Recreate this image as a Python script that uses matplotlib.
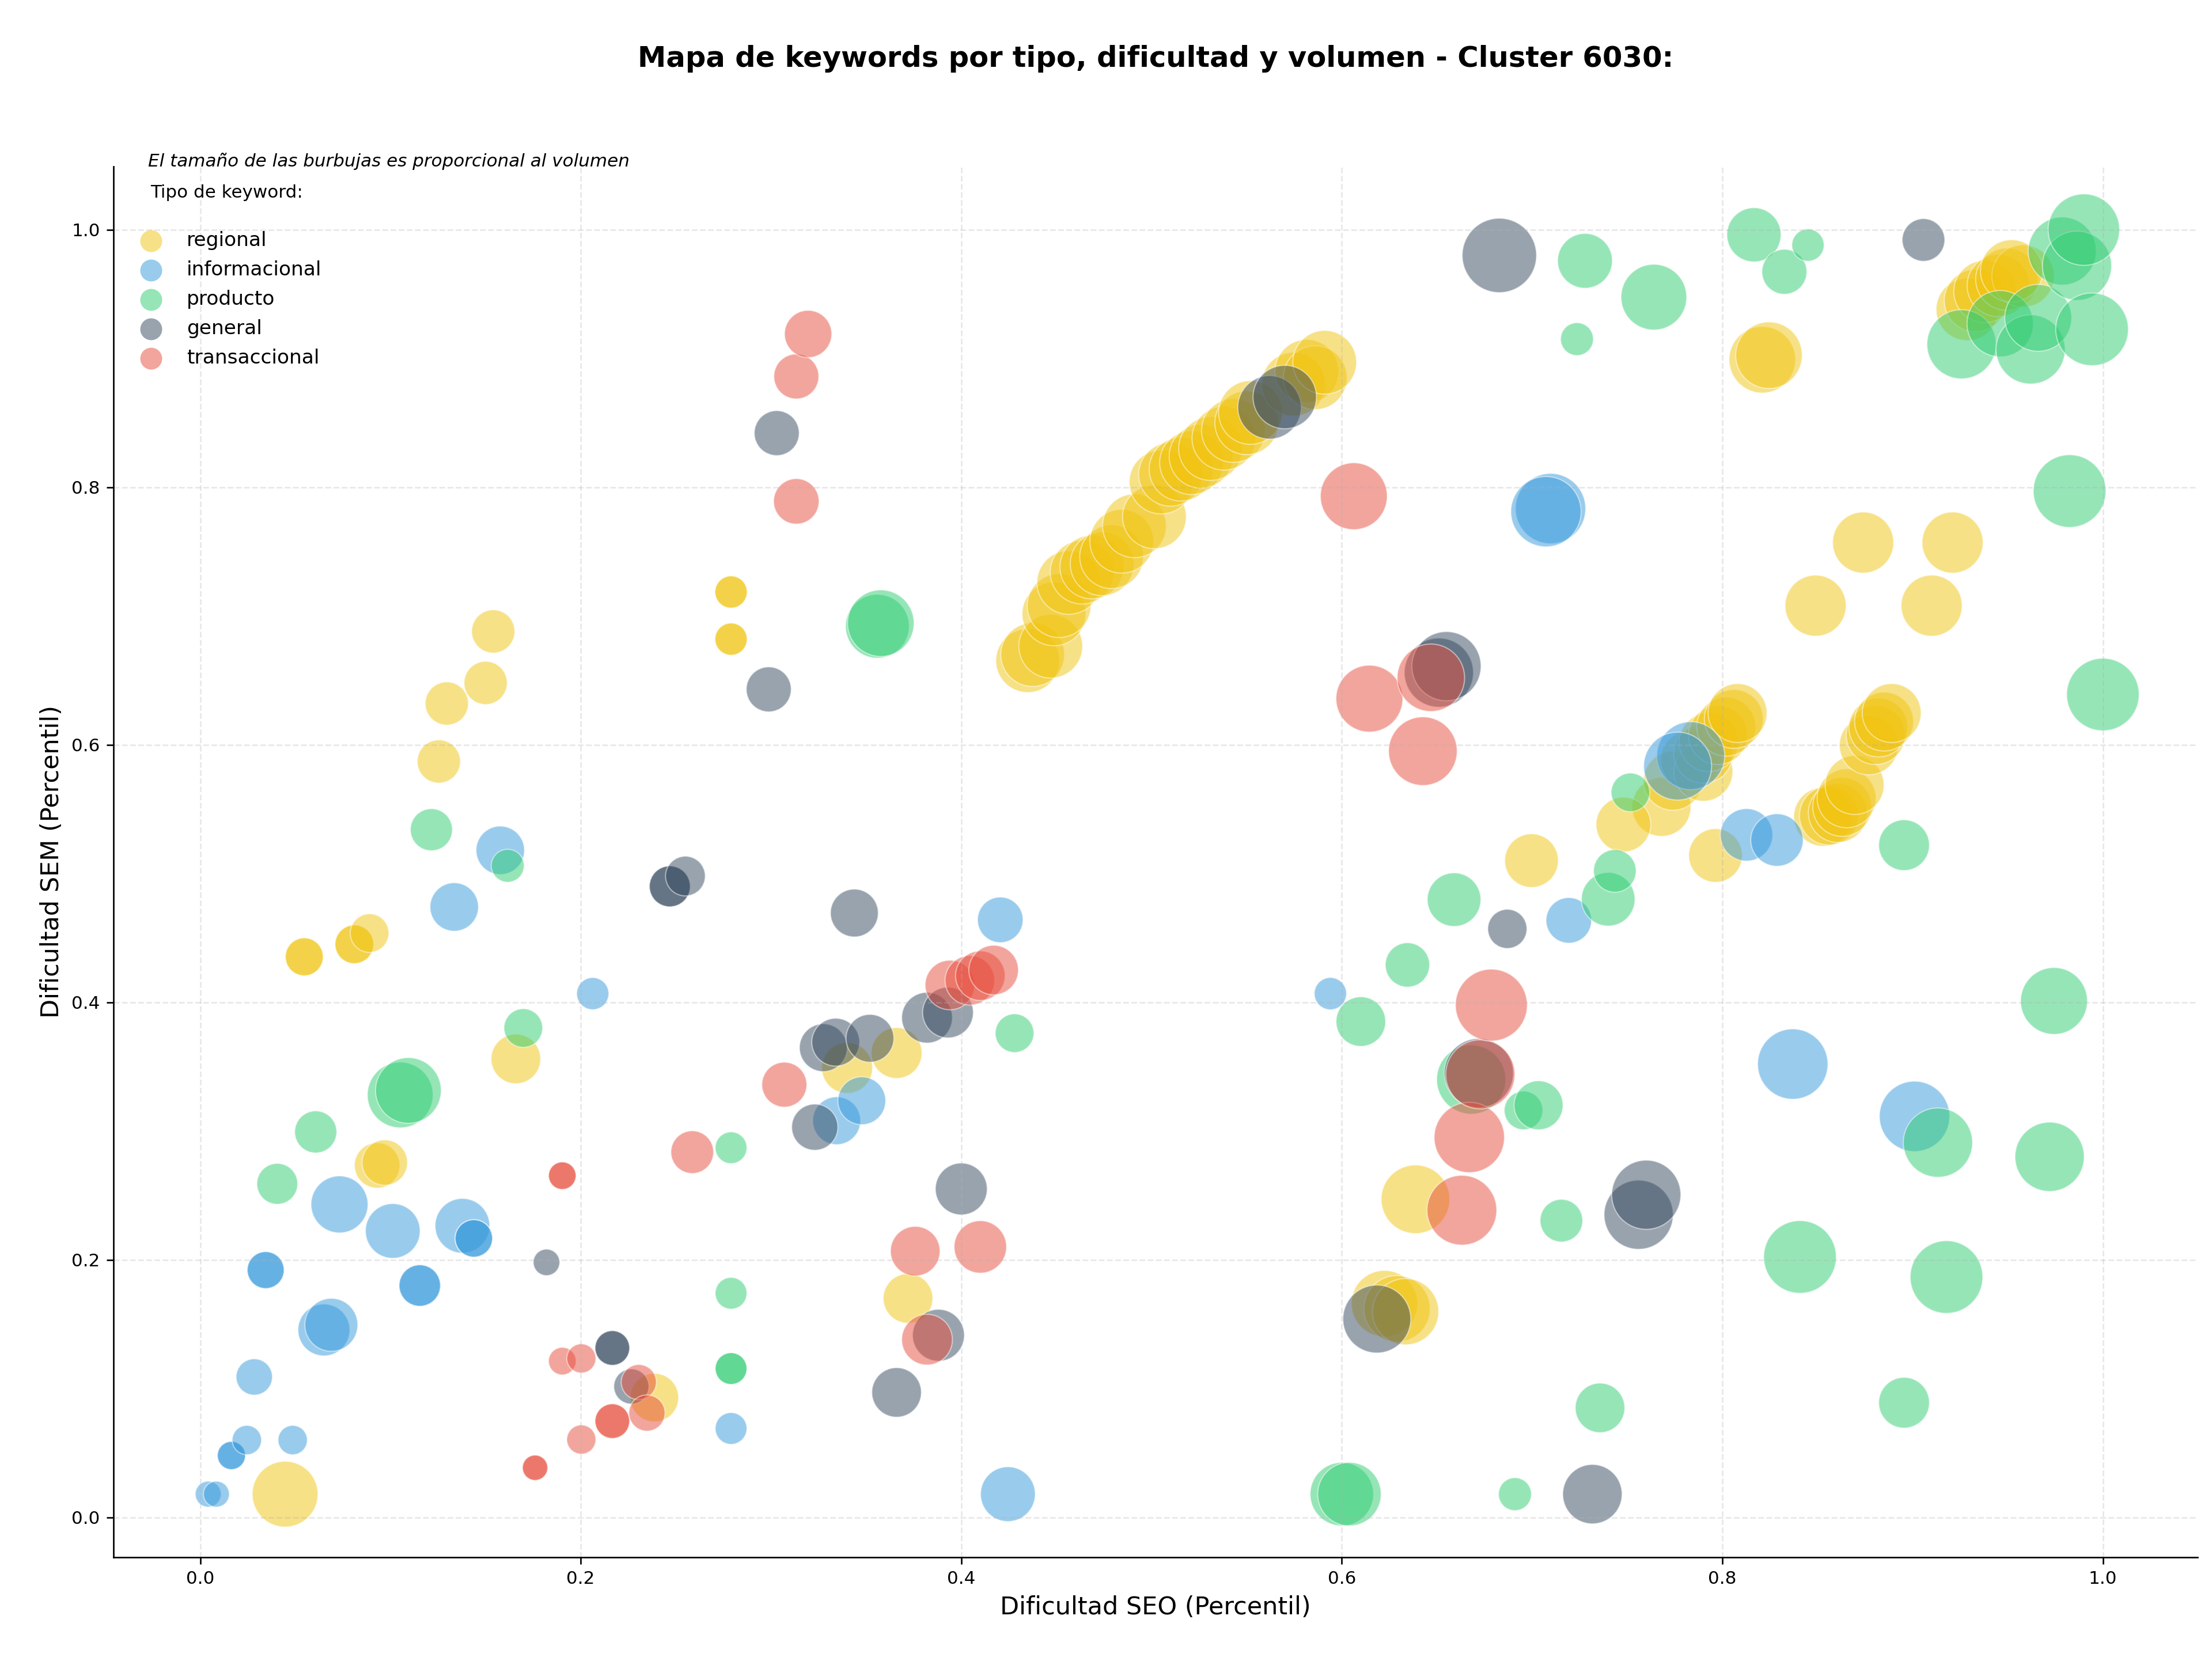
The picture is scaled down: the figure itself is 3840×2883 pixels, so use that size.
import numpy as np
import matplotlib
matplotlib.use('Agg')
import matplotlib.pyplot as plt

# keywords por tipo: dificultad SEO (x), dificultad SEM (y), volumen (tamaño burbuja)
tipos = ['regional', 'informacional', 'producto', 'general', 'transaccional']
colores = {'regional': '#F1C40F', 'informacional': '#3498DB', 'producto': '#2ECC71',
           'general': '#34495E', 'transaccional': '#E74C3C'}

regional_seo = [0.0446, 0.0547, 0.0547, 0.081, 0.081, 0.089, 0.093, 0.097, 0.1254, 0.1296,
                0.150, 0.154, 0.1659, 0.279, 0.279, 0.279, 0.279, 0.2387, 0.340, 0.366, 0.372,
                0.4349, 0.4375, 0.447, 0.4487, 0.4514, 0.4565, 0.4635, 0.4686, 0.474, 0.479,
                0.4843, 0.491, 0.5015, 0.505, 0.510, 0.5155, 0.521, 0.526, 0.531, 0.538,
                0.543, 0.550, 0.552, 0.5746, 0.5816, 0.586, 0.591,
                0.821, 0.8245, 0.9287, 0.933, 0.938, 0.945, 0.9495, 0.958, 0.952,
                0.874, 0.921, 0.849, 0.910,
                0.768, 0.774, 0.783, 0.790, 0.790, 0.7928, 0.7977, 0.802, 0.806, 0.808,
                0.748, 0.6997, 0.7964,
                0.853, 0.856, 0.8607, 0.863, 0.8653, 0.8695, 0.877, 0.8806, 0.882, 0.885, 0.889,
                0.6387, 0.6224, 0.629, 0.6335]
regional_sem = [0.018, 0.4353, 0.4353, 0.445, 0.445, 0.4537, 0.2733, 0.2755, 0.587, 0.632,
                0.648, 0.688, 0.356, 0.7186, 0.7186, 0.682, 0.682, 0.093, 0.349, 0.3606, 0.170,
                0.6653, 0.670, 0.6765, 0.7016, 0.708, 0.726, 0.734, 0.738, 0.7405, 0.746,
                0.758, 0.770, 0.777, 0.804, 0.810, 0.814, 0.819, 0.824, 0.830, 0.838,
                0.844, 0.850, 0.858, 0.880, 0.890, 0.885, 0.897,
                0.899, 0.9025, 0.938, 0.945, 0.952, 0.9566, 0.9615, 0.964, 0.968,
                0.757, 0.757, 0.708, 0.708,
                0.5517, 0.572, 0.588, 0.579, 0.593, 0.602, 0.6075, 0.614, 0.620, 0.6246,
                0.538, 0.510, 0.514,
                0.544, 0.545, 0.547, 0.5517, 0.5584, 0.5687, 0.5995, 0.6075, 0.6134, 0.618, 0.6246,
                0.247, 0.166, 0.162, 0.1597]
regional_vol = [1170, 390, 390, 405, 405, 405, 560, 560, 506, 506,
                506, 506, 665, 282, 282, 282, 282, 635, 700, 700, 666,
                1100, 1100, 1100, 1100, 1100, 1100, 1100, 1100, 1100, 1100,
                1100, 1100, 1100, 1100, 1100, 1100, 1100, 1100, 1100, 1100,
                1100, 1100, 1100, 1100, 1100, 1100, 1100,
                1200, 1200, 1050, 1050, 1050, 1050, 1050, 1050, 1050,
                1010, 1010, 1010, 1010,
                940, 940, 940, 940, 940, 940, 940, 940, 940, 940,
                812, 778, 778,
                940, 940, 940, 940, 940, 940, 940, 940, 940, 940, 940,
                1275, 1190, 1190, 1190]

informacional_seo = [0.0042, 0.0085, 0.0164, 0.0164, 0.0245, 0.0486, 0.0284, 0.065, 0.0689,
                     0.0344, 0.0344, 0.1154, 0.1154, 0.0732, 0.1012, 0.1378, 0.1438, 0.1438,
                     0.1335, 0.1577, 0.2063, 0.279, 0.3345, 0.3477, 0.4205, 0.4245, 0.594,
                     0.7097, 0.7073, 0.7193, 0.7834, 0.7765, 0.8127, 0.8287, 0.837, 0.901]
informacional_sem = [0.018, 0.018, 0.048, 0.048, 0.060, 0.060, 0.109, 0.1455, 0.1495,
                     0.192, 0.192, 0.180, 0.180, 0.243, 0.2224, 0.2264, 0.2166, 0.2166,
                     0.474, 0.518, 0.4067, 0.069, 0.308, 0.3235, 0.464, 0.018, 0.4067,
                     0.7834, 0.781, 0.4636, 0.5915, 0.5834, 0.530, 0.526, 0.352, 0.3114]
informacional_vol = [182, 182, 215, 215, 233, 233, 357, 729, 760,
                     370, 370, 466, 466, 880, 810, 810, 380, 380,
                     635, 635, 280, 273, 620, 620, 562, 812, 282,
                     1340, 1340, 562, 1250, 1250, 745, 745, 1340, 1340]

producto_seo = [0.0405, 0.0607, 0.1051, 0.1094, 0.1215, 0.1616, 0.1698, 0.279, 0.279, 0.279,
                0.279, 0.3559, 0.3577, 0.428, 0.600, 0.604, 0.610, 0.6345, 0.659, 0.668,
                0.691, 0.6955, 0.7034, 0.7154, 0.7236, 0.7278, 0.7357, 0.740, 0.7435, 0.7517,
                0.764, 0.8166, 0.8326, 0.845, 0.8408, 0.8955, 0.8955, 0.9133, 0.9178, 0.9257,
                0.946, 0.962, 0.966, 0.972, 0.9743, 0.9786, 0.9864, 0.990, 0.9943, 0.9825, 1.0]
producto_sem = [0.259, 0.2993, 0.328, 0.3315, 0.534, 0.506, 0.380, 0.287, 0.174, 0.1155,
                0.1155, 0.692, 0.6944, 0.376, 0.018, 0.018, 0.385, 0.429, 0.4797, 0.340,
                0.018, 0.316, 0.320, 0.2304, 0.915, 0.9758, 0.085, 0.480, 0.502, 0.563,
                0.9476, 0.996, 0.9673, 0.988, 0.2022, 0.522, 0.089, 0.291, 0.1866, 0.911,
                0.927, 0.907, 0.9315, 0.280, 0.401, 0.9834, 0.972, 1.0, 0.9226, 0.797, 0.639]
producto_vol = [453, 480, 1170, 1170, 480, 294, 405, 273, 273, 273,
                273, 1100, 1200, 405, 1090, 1090, 666, 533, 778, 1296,
                294, 404, 650, 493, 292, 812, 665, 778, 493, 405,
                1170, 795, 548, 282, 1430, 697, 697, 1300, 1430, 1296,
                1190, 1296, 1211, 1300, 1211, 1253, 1296, 1384, 1430, 1430, 1425]

general_seo = [0.182, 0.2166, 0.2166, 0.2266, 0.2468, 0.2468, 0.255, 0.2988, 0.303, 0.323,
               0.3275, 0.334, 0.3438, 0.352, 0.366, 0.382, 0.393, 0.388, 0.400, 0.562,
               0.570, 0.6184, 0.651, 0.655, 0.672, 0.6828, 0.687, 0.7317, 0.756, 0.760, 0.9057]
general_sem = [0.198, 0.1315, 0.1315, 0.1016, 0.490, 0.490, 0.498, 0.643, 0.842, 0.303,
               0.3647, 0.369, 0.4693, 0.372, 0.097, 0.388, 0.392, 0.1414, 0.255, 0.862,
               0.870, 0.154, 0.656, 0.661, 0.345, 0.980, 0.457, 0.018, 0.235, 0.2505, 0.992]
general_vol = [190, 326, 326, 335, 455, 455, 428, 548, 548, 578,
               620, 620, 620, 620, 665, 697, 697, 729, 729, 1090,
               1090, 1250, 1296, 1296, 1296, 1498, 416, 955, 1296, 1296, 493]

transaccional_seo = [0.176, 0.176, 0.1903, 0.1903, 0.1903, 0.2003, 0.2003, 0.2166, 0.2166,
                     0.2305, 0.2348, 0.2586, 0.307, 0.3133, 0.3133, 0.3195, 0.3758, 0.382,
                     0.394, 0.4045, 0.410, 0.417, 0.410, 0.6063, 0.6145, 0.6468, 0.6426,
                     0.6631, 0.667, 0.6728, 0.6786]
transaccional_sem = [0.0385, 0.0385, 0.2653, 0.2653, 0.1213, 0.1234, 0.0604, 0.0747, 0.0747,
                     0.105, 0.081, 0.2836, 0.336, 0.886, 0.789, 0.919, 0.2067, 0.138,
                     0.4134, 0.417, 0.4206, 0.425, 0.210, 0.793, 0.6358, 0.652, 0.595,
                     0.2385, 0.295, 0.344, 0.3978]
transaccional_vol = [174, 174, 206, 206, 206, 230, 230, 326, 326,
                     335, 355, 495, 548, 548, 560, 605, 666, 697,
                     665, 665, 665, 665, 745, 1211, 1211, 1232, 1275,
                     1318, 1340, 1296, 1400]

datos = {
    'regional': (regional_seo, regional_sem, regional_vol),
    'informacional': (informacional_seo, informacional_sem, informacional_vol),
    'producto': (producto_seo, producto_sem, producto_vol),
    'general': (general_seo, general_sem, general_vol),
    'transaccional': (transaccional_seo, transaccional_sem, transaccional_vol),
}

fig, ax = plt.subplots(figsize=(16, 12.0125), dpi=240)
plt.subplots_adjust(left=0.0513, right=0.9935, bottom=0.0624, top=0.8998)

for tipo in tipos:
    seo, sem, vol = datos[tipo]
    ax.scatter(seo, sem, s=np.array(vol), color=colores[tipo], alpha=0.5,
               edgecolors='white', linewidths=0.6)

# handles de la leyenda con tamaño fijo
handles = [ax.scatter([], [], s=130, color=colores[t], alpha=0.5, linewidths=0, label=t)
           for t in tipos]
ax.legend(handles=handles, title='Tipo de keyword:\n', loc='upper left', frameon=False,
          fontsize=10.3, title_fontsize=9.3, scatterpoints=1, labelspacing=0.53)

ax.text(0.0166, 1.0, 'El tamaño de las burbujas es proporcional al volumen',
        transform=ax.transAxes, fontsize=9.3, style='italic', va='baseline', ha='left')

ax.set_title('Mapa de keywords por tipo, dificultad y volumen - Cluster 6030:',
             fontsize=14.9, fontweight='bold', pad=52)
ax.set_xlabel('Dificultad SEO (Percentil)', fontsize=12.9)
ax.set_ylabel('Dificultad SEM (Percentil)', fontsize=12.9)
ax.tick_params(labelsize=9.3)
ax.grid(True, linestyle='--', alpha=0.3)
ax.spines['top'].set_visible(False)
ax.spines['right'].set_visible(False)

plt.savefig('out.png', dpi=240)
